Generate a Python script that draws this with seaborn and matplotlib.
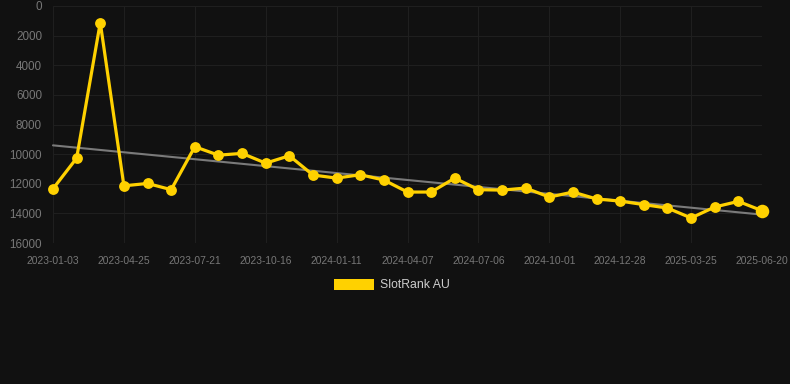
import matplotlib
matplotlib.use("Agg")
import matplotlib.pyplot as plt
from matplotlib.patches import Patch
import seaborn as sns
import numpy as np
import pandas as pd

# weekly-ish snapshots, category axis (every 3rd label shown)
dates = ["2023-01-03", "2023-02-09", "2023-03-18", "2023-04-25", "2023-05-24", "2023-06-22",
         "2023-07-21", "2023-08-19", "2023-09-17", "2023-10-16", "2023-11-14", "2023-12-13",
         "2024-01-11", "2024-02-09", "2024-03-09", "2024-04-07", "2024-05-07", "2024-06-06",
         "2024-07-06", "2024-08-04", "2024-09-02", "2024-10-01", "2024-10-30", "2024-11-29",
         "2024-12-28", "2025-01-26", "2025-02-24", "2025-03-25", "2025-04-23", "2025-05-22",
         "2025-06-20"]
rank = [12340, 10270, 1120, 12140, 11980, 12400, 9500, 10070, 9950, 10610, 10110, 11410,
        11620, 11390, 11750, 12560, 12560, 11620, 12400, 12430, 12290, 12900, 12560, 13030,
        13170, 13410, 13640, 14310, 13570, 13190, 13820]
series_name = "SlotRank AU"

gold = "#FFD100"
bg = "#111111"
grid_c = "#1f1f1f"

df = pd.DataFrame({"idx": np.arange(len(dates)), "date": dates, "rank": rank})
coef = np.polyfit(df["idx"], df["rank"], 1)
df["trend"] = np.polyval(coef, df["idx"])

sns.set_style("dark")
plt.rcParams["font.family"] = ["Liberation Sans", "DejaVu Sans"]

fig = plt.figure(figsize=(7.9, 3.84), dpi=100, facecolor=bg)
ax = fig.add_axes([53 / 790, 1 - 243 / 384, 709 / 790, 237 / 384])
ax.set_facecolor(bg)

sns.lineplot(data=df, x="idx", y="trend", ax=ax, color="#7a7a7a", linewidth=1.5, zorder=2)
sns.lineplot(data=df, x="idx", y="rank", ax=ax, color=gold, linewidth=2.3,
             marker="o", markersize=7.8, markeredgewidth=0, zorder=3)
for ln in ax.get_lines():
    ln.set_clip_on(False)
# last point is highlighted (hover state)
last = df.iloc[[-1]]
sns.scatterplot(data=last, x="idx", y="rank", ax=ax, color=gold, s=95, linewidth=0,
                zorder=4, clip_on=False)

ax.set_xlim(0, len(dates) - 1)
ax.set_ylim(16000, 0)
ax.set_yticks(np.arange(0, 16001, 2000))
ax.set_xticks(df["idx"][::3])
ax.set_xticklabels(df["date"][::3])
ax.set_xlabel("")
ax.set_ylabel("")
ax.grid(True, color=grid_c, linewidth=0.8)
ax.tick_params(axis="y", colors=grid_c, labelcolor="#777777", labelsize=8.4,
               length=7, width=0.8, pad=1)
ax.tick_params(axis="x", colors=grid_c, labelcolor="#777777", labelsize=7.4,
               length=7, width=0.8, pad=2.5)
for s in ax.spines.values():
    s.set_visible(False)

leg = fig.legend(handles=[Patch(facecolor=gold, edgecolor="none")], labels=[series_name],
                 loc="center", bbox_to_anchor=(392 / 790, 1 - 285 / 384), frameon=False,
                 handlelength=3.3, handleheight=1.0, handletextpad=0.5, fontsize=8.8)
for t in leg.get_texts():
    t.set_color("#cccccc")

fig.savefig("out.png", dpi=100, facecolor=bg)
